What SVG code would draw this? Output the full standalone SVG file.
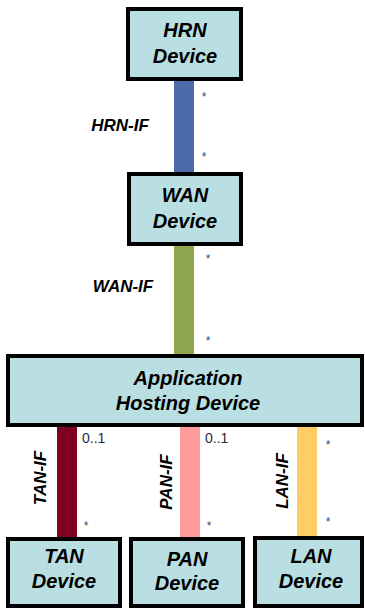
<svg xmlns="http://www.w3.org/2000/svg" width="365" height="610" viewBox="0 0 365 610">
<style>
.box{fill:#B9DFE3;stroke:#000;stroke-width:4}
.t{font-family:"Liberation Sans",Arial,sans-serif;font-weight:bold;font-style:italic;font-size:20px;fill:#000;text-anchor:middle}
.if{font-family:"Liberation Sans",Arial,sans-serif;font-weight:bold;font-style:italic;font-size:17px;fill:#000;text-anchor:middle}
.m{font-family:"Liberation Sans",Arial,sans-serif;font-size:14px;fill:#1F2A44}
.s{font-family:"Liberation Sans",Arial,sans-serif;font-size:12px;fill:#3A4A66;text-anchor:middle}
</style>
<rect width="365" height="610" fill="#fff"/>
<g id="connectors">
  <rect x="174" y="80" width="20" height="93" fill="#4B6CA8"/>
  <rect x="174" y="245" width="20" height="110" fill="#8FA64F"/>
  <rect x="57" y="426" width="20" height="112" fill="#7F0020"/>
  <rect x="180" y="426" width="20" height="112" fill="#FF9A9A"/>
  <rect x="297" y="426" width="20" height="112" fill="#FFCC66"/>
  <text class="if" x="120" y="131">HRN-IF</text>
  <text class="if" x="123" y="292">WAN-IF</text>
  <text class="if" transform="translate(46,478) rotate(-90)">TAN-IF</text>
  <text class="if" transform="translate(172,482) rotate(-90)">PAN-IF</text>
  <text class="if" transform="translate(288,481) rotate(-90)">LAN-IF</text>
  <text class="s" x="204" y="101">*</text>
  <text class="s" x="204" y="161">*</text>
  <text class="s" x="208" y="263">*</text>
  <text class="s" x="208" y="345">*</text>
  <text class="m" x="82" y="443">0..1</text>
  <text class="m" x="205" y="443">0..1</text>
  <text class="s" x="86" y="530">*</text>
  <text class="s" x="209" y="530">*</text>
  <text class="s" x="328" y="449">*</text>
  <text class="s" x="328" y="526">*</text>
</g>
<g id="hrn">
  <rect class="box" x="128" y="9" width="113" height="70"/>
  <text class="t" x="185" y="37">HRN</text>
  <text class="t" x="185" y="63">Device</text>
</g>
<g id="wan">
  <rect class="box" x="129" y="174" width="112" height="70"/>
  <text class="t" x="185" y="202">WAN</text>
  <text class="t" x="185" y="228">Device</text>
</g>
<g id="ahd">
  <rect class="box" x="8" y="356" width="354" height="69"/>
  <text class="t" x="188" y="385">Application</text>
  <text class="t" x="188" y="410">Hosting Device</text>
</g>
<g id="tan">
  <rect class="box" x="8" y="539" width="112" height="67"/>
  <text class="t" x="64" y="563">TAN</text>
  <text class="t" x="64" y="588">Device</text>
</g>
<g id="pan">
  <rect class="box" x="131" y="539" width="112" height="67"/>
  <text class="t" x="187" y="566">PAN</text>
  <text class="t" x="187" y="590">Device</text>
</g>
<g id="lan">
  <rect class="box" x="255" y="538" width="107" height="68"/>
  <text class="t" x="311" y="563">LAN</text>
  <text class="t" x="311" y="588">Device</text>
</g>
</svg>
